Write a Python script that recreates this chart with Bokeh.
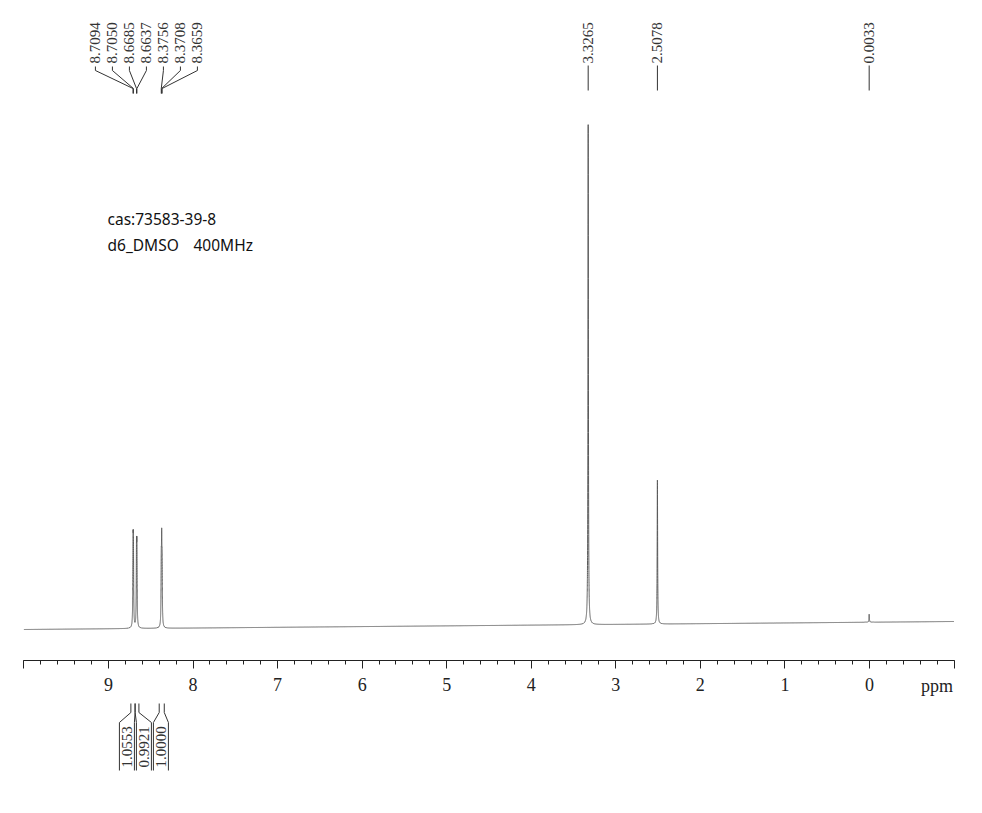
import numpy as np
from bokeh.plotting import figure
from bokeh.models import Range1d, FixedTicker
from bokeh.core.properties import value
from bokeh.embed import file_html
from bokeh.resources import INLINE

# ---------------- data ----------------
peak_ppm = [8.7094, 8.7050, 8.6685, 8.6637, 8.3756, 8.3708, 8.3659, 3.3265, 2.5078, 0.0033]
peak_height = [14.6, 14.6, 14.1, 14.1, 11.0, 14.0, 11.0, 100.0, 28.8, 1.6]
peak_hwhm = 0.003
baseline_ppm = [10.0, -1.0]
baseline_level = [0.0, 1.6]

label_groups = [
    [8.7094, 8.7050, 8.6685, 8.6637, 8.3756, 8.3708, 8.3659],
    [3.3265],
    [2.5078],
    [0.0033],
]
integral_ranges = [(8.735, 8.685), (8.685, 8.640), (8.400, 8.340)]
integral_values = ["1.0553", "0.9921", "1.0000"]

tick_values = list(range(-1, 11))
tick_hidden = [10, -1]
axis_unit = "ppm"
sample_line1 = ["cas:73583-39-8"]
sample_line2 = ["d6_DMSO", "400MHz"]   # separated by a wide gap, as in the original

# ---------------- geometry helpers ----------------
W, H = 982, 813
X0, X1 = 10.277, -1.337          # ppm at left / right edge of the window
PXPPM = W / (X0 - X1)            # px per ppm
Y_TOP, Y_BOT = 125.8, -36.8      # intensity at top / bottom of window
PXU = H / (Y_TOP - Y_BOT)        # px per intensity unit


def yd(py):
    """pixel row -> intensity coordinate"""
    return Y_TOP - py / PXU


def dppm(px):
    return px / PXPPM


def xd(px):
    """pixel column -> ppm coordinate"""
    return X0 - px / PXPPM


# ---------------- spectrum ----------------
grid = [np.linspace(baseline_ppm[0], baseline_ppm[1], 5501)]
for c in peak_ppm:
    grid.append(np.linspace(c + 0.06, c - 0.06, 601))
grid.append(np.array(peak_ppm))
x = np.unique(np.concatenate(grid))[::-1]
x = x[(x <= baseline_ppm[0]) & (x >= baseline_ppm[1])]
y = np.interp(x, baseline_ppm[::-1], baseline_level[::-1])
for c, h in zip(peak_ppm, peak_height):
    y = y + h / (1.0 + ((x - c) / peak_hwhm) ** 2)

p = figure(width=W, height=H, output_backend="svg", toolbar_location=None,
           x_range=Range1d(X0, X1), y_range=Range1d(Y_BOT, Y_TOP),
           y_axis_location=None, min_border=0)
p.grid.visible = False
p.outline_line_color = None
p.background_fill_color = "white"
p.border_fill_color = "white"

p.line(x, y, line_color="#5a5a5a", line_width=1)

# ---------------- axis ----------------
ax = p.xaxis[0]
ax.fixed_location = yd(660)
ax.bounds = (min(tick_values), max(tick_values))
minor = [round(min(tick_values) + 0.2 * k, 1) for k in range(int((max(tick_values) - min(tick_values)) / 0.2) + 1)]
ax.ticker = FixedTicker(ticks=tick_values, minor_ticks=minor)
ax.major_label_overrides = {t: " " for t in tick_hidden}
ax.axis_line_color = "#222222"
ax.axis_line_width = 1
ax.major_tick_line_color = "#222222"
ax.minor_tick_line_color = "#222222"
ax.major_tick_in = 0
ax.major_tick_out = 8
ax.minor_tick_in = 0
ax.minor_tick_out = 4
ax.major_label_standoff = 6
ax.major_label_text_font = "Liberation Serif"
ax.major_label_text_font_size = "18px"
ax.major_label_text_color = "#222222"

p.text(x=[min(tick_values) + 0.2], y=[yd(685)], text=[axis_unit],
       text_font=value("Liberation Serif"), text_font_size="18px",
       text_color="#222222", text_align="center", text_baseline="middle")

# ---------------- peak labels ----------------
step = dppm(17)
lab_x, lab_t, conn_xs, conn_ys = [], [], [], []
for grp in label_groups:
    n = len(grp)
    if n == 1:
        c = grp[0]
        lab_x.append(c)
        lab_t.append(f"{c:.4f}")
        conn_xs.append([c, c])
        conn_ys.append([yd(65), yd(90)])
    else:
        m = float(np.mean(grp))
        for i, c in enumerate(grp):
            lx = m + ((n - 1) / 2 - i) * step
            lab_x.append(lx)
            lab_t.append(f"{c:.4f}")
            conn_xs.append([lx, lx, c, c])
            conn_ys.append([yd(66), yd(70), yd(88), yd(93)])

p.multi_line(conn_xs, conn_ys, line_color="#333333", line_width=1)
p.text(x=lab_x, y=[yd(63)] * len(lab_x), text=lab_t, angle=np.pi / 2,
       text_font=value("Liberation Serif"), text_font_size="15px",
       text_color="#333333", text_align="left", text_baseline="middle")

# ---------------- integrals ----------------
centers = [(a + b) / 2 for a, b in integral_ranges]
mc = float(np.mean(centers))
k = len(integral_ranges)
half = dppm(7.5)
int_xs, int_ys, box_c = [], [], []
for i, (a, b) in enumerate(integral_ranges):
    bc = mc + ((k - 1) / 2 - i) * step
    box_c.append(bc)
    L, R = bc + half, bc - half
    ys = [yd(703), yd(712), yd(722), yd(770)]
    int_xs += [[a, a, L, L], [b, b, R, R]]
    int_ys += [ys, ys]

p.multi_line(int_xs, int_ys, line_color="#333333", line_width=1)
p.text(x=box_c, y=[yd(767)] * k, text=integral_values, angle=np.pi / 2,
       text_font=value("Liberation Serif"), text_font_size="15px",
       text_color="#333333", text_align="left", text_baseline="middle")

# ---------------- sample info ----------------
p.text(x=[xd(107)], y=[yd(218)], text=sample_line1,
       text_font=value("Noto Sans"), text_font_size="15.5px",
       text_color="#111111", text_align="left", text_baseline="alphabetic")
p.text(x=[xd(107), xd(193)], y=[yd(244), yd(244)], text=sample_line2,
       text_font=value("Noto Sans"), text_font_size="15.5px",
       text_color="#111111", text_align="left", text_baseline="alphabetic")

open("out.html", "w").write(file_html(p, INLINE))
